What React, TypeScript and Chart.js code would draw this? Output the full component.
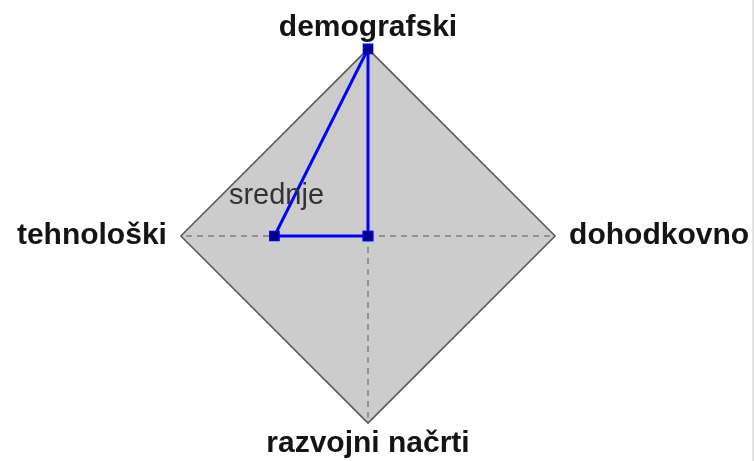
import React, { useEffect, useRef } from "react";
import { Chart, registerables } from "chart.js";

Chart.register(...registerables);

const axisLabels: string[] = ["demografski", "dohodkovno", "razvojni načrti", "tehnološki"];
const seriesValues: number[] = [1, 0, 0, 0.5];
const pointNotes: string[] = ["", "", "", "srednje"];
const scaleMin = 0;
const scaleMax = 1;

const notePlugin = {
  id: "pointNotes",
  afterDatasetsDraw(chart: any) {
    const scale = chart.scales.r;
    const ctx = chart.ctx;
    ctx.save();
    ctx.font = "29px 'Liberation Sans', Arial, sans-serif";
    ctx.fillStyle = "#333333";
    ctx.textAlign = "center";
    ctx.textBaseline = "alphabetic";
    pointNotes.forEach((note, i) => {
      if (!note) return;
      const p = scale.getPointPositionForValue(i, seriesValues[i]);
      ctx.fillText(note, p.x + 2, p.y - 32);
    });
    ctx.restore();
  },
};

export default function App() {
  const ref = useRef<HTMLCanvasElement | null>(null);

  useEffect(() => {
    if (!ref.current) return;
    const chart = new Chart(ref.current, {
      type: "radar",
      data: {
        labels: axisLabels,
        datasets: [
          {
            data: seriesValues,
            borderColor: "#0000ff",
            borderWidth: 3,
            fill: false,
            pointStyle: "rect",
            pointRadius: 6.5,
            pointBackgroundColor: "#000080",
            pointBorderColor: "#0000dd",
            pointBorderWidth: 1.5,
          },
        ],
      },
      options: {
        animation: false,
        responsive: true,
        maintainAspectRatio: false,
        layout: { padding: { top: 11, left: 0, right: 0, bottom: 0 } },
        plugins: {
          legend: { display: false },
          tooltip: { enabled: false },
        },
        scales: {
          r: {
            min: scaleMin,
            max: scaleMax,
            backgroundColor: "#cccccc",
            ticks: { display: false, stepSize: 1 },
            grid: { color: "#555555", lineWidth: 1.5 },
            angleLines: {
              color: "#808080",
              lineWidth: 1.5,
              borderDash: [6, 5],
            },
            pointLabels: {
              color: "#141414",
              font: { family: "'Liberation Sans', Arial, sans-serif", size: 30, weight: "bold", lineHeight: 1.13 },
              padding: (c: any) => (c.index % 2 === 1 ? 14 : 4),
            },
          },
        },
      },
      plugins: [notePlugin],
    } as any);
    return () => chart.destroy();
  }, []);

  return (
    <div style={{ position: "fixed", left: 0, top: 0, width: 756, height: 461, background: "#ffffff", overflow: "hidden" }}>
      <div style={{ position: "relative", width: 766, height: 461 }}>
        <canvas ref={ref} />
      </div>
      <div style={{ position: "absolute", left: 752, top: 0, width: 2, height: 461, background: "#e2e2e2" }} />
    </div>
  );
}
